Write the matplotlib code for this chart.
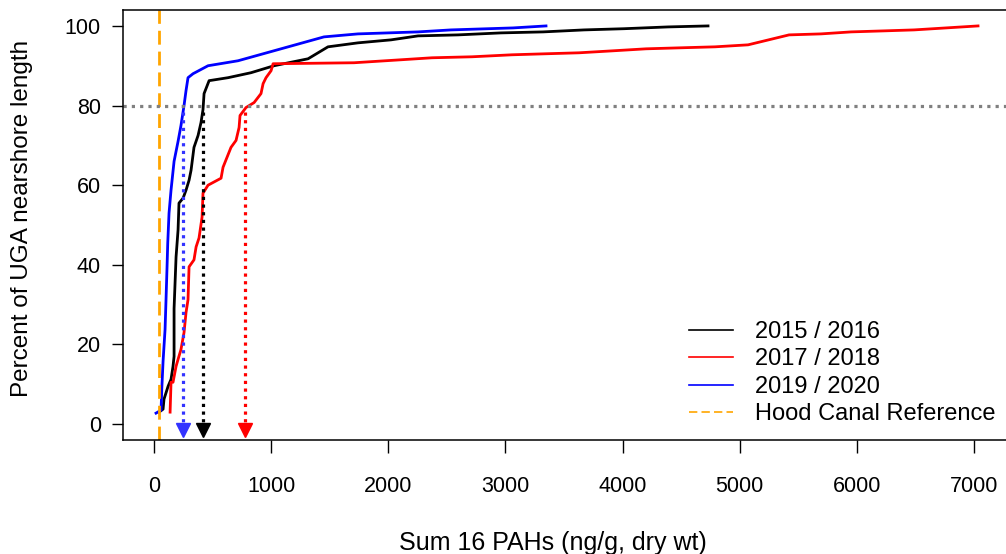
import matplotlib
matplotlib.use('Agg')
import matplotlib.pyplot as plt
import numpy as np

plt.rcParams['font.family'] = ['Liberation Sans', 'DejaVu Sans']

# cumulative percent of nearshore length vs sum 16 PAHs
pah_1516 = [43, 77, 85, 120, 145, 162, 171, 171, 171, 188, 205, 213, 248, 273, 299,
            316, 341, 376, 401, 418, 427, 470, 632, 828, 1024, 1315, 1485, 1741,
            2023, 2254, 2595, 2962, 3321, 3671, 4012, 4388, 4729]
pct_1516 = [3, 3.75, 6.25, 9.5, 11.25, 14.5, 17, 23, 29, 42, 48.75, 55.5, 56.75, 58.75, 61.25,
            63.75, 69.5, 72.5, 75.75, 79, 83, 86.25, 87, 88.25, 90, 91.75, 94.75, 95.75,
            96.5, 97.5, 97.75, 98.25, 98.5, 99, 99.3, 99.75, 100]

pah_1718 = [137, 145, 162, 188, 205, 230, 256, 273, 290, 299, 341, 359, 384, 410, 418,
            461, 572, 589, 657, 700, 726, 734, 785, 854, 913, 931, 956, 999, 1016,
            1707, 2109, 2373, 2715, 3056, 3338, 3628, 3918, 4200, 4490, 4789, 5071,
            5421, 5694, 5950, 6223, 6488, 6761, 7034]
pct_1718 = [3, 10.5, 10.5, 14.5, 16.25, 18.75, 23, 28, 31.25, 39.5, 41.25, 44.5, 46.75, 52, 58,
            60, 61.75, 64.5, 69.5, 71.25, 74.5, 77.5, 79.5, 80.75, 83, 85.5, 87, 88.75, 90.5,
            90.75, 91.5, 92, 92.25, 92.75, 93, 93.25, 93.75, 94.25, 94.5, 94.75, 95.25,
            97.75, 98, 98.5, 98.75, 99, 99.5, 100]

pah_1920 = [17, 60, 66, 77, 94, 102, 111, 117, 128, 145, 171, 205, 230, 256, 273, 290,
            333, 461, 717, 1451, 1741, 2254, 2535, 3065, 3346]
pct_1920 = [2.75, 3.5, 8.75, 15.75, 23.75, 31, 39.5, 45.5, 53, 58.75, 66, 71, 75, 80, 83.75, 87,
            88, 90, 91.25, 97.25, 98, 98.5, 99, 99.5, 100]

hood_canal = 40
target_pct = 80
pah_at_80 = {'2015 / 2016': 421, '2017 / 2018': 780, '2019 / 2020': 245}

W, H = 1006, 554
fig = plt.figure(figsize=(W / 100, H / 100), dpi=100)
ax = fig.add_axes([123 / W, 1 - 440 / H, (1010 - 123) / W, 430 / H])

ax.plot(pah_1516, pct_1516, color='black', lw=2, label='2015 / 2016')
ax.plot(pah_1718, pct_1718, color='red', lw=2, label='2017 / 2018')
ax.plot(pah_1920, pct_1920, color='blue', lw=2, label='2019 / 2020')
ax.axvline(hood_canal, color='orange', lw=2, dashes=(5, 2.5), label='Hood Canal Reference')
ax.axhline(target_pct, color='#808080', lw=2.3, linestyle=(0, (1, 1.6)))

arrow_cols = {'2015 / 2016': 'black', '2017 / 2018': 'red', '2019 / 2020': '#3333ff'}
for k, xv in pah_at_80.items():
    ax.plot([xv, xv], [target_pct - 1.5, 0.5], color=arrow_cols[k], lw=2.3,
            linestyle=(0, (1, 1.4)))
    ax.plot([xv], [-1.6], marker='v', ms=10.5, color=arrow_cols[k], mec=arrow_cols[k])

ax.set_xlim(-265, 7307)
ax.set_ylim(-4, 104)
ax.set_xticks(np.arange(0, 7001, 1000))
ax.set_yticks(np.arange(0, 101, 20))
ax.tick_params(axis='x', length=9, width=1, pad=17, labelsize=15.5)
ax.tick_params(axis='y', length=8, width=1, pad=8, labelsize=15.5)
for s in ax.spines.values():
    s.set_linewidth(1.1)

fig.text(553 / W, 1 - 543 / H, 'Sum 16 PAHs (ng/g, dry wt)', ha='center', va='center', fontsize=18)
fig.text(22 / W, 1 - 218 / H, 'Percent of UGA nearshore length', ha='center', va='center',
         rotation=90, fontsize=17.5)

handles, labels = ax.get_legend_handles_labels()
leg = ax.legend(handles, labels, loc='lower right', bbox_to_anchor=(1007 / W, 1 - 437 / H),
                bbox_transform=fig.transFigure, frameon=False, fontsize=17,
                handlelength=1.9, handletextpad=0.9, labelspacing=0.23, borderpad=0)
for ln in leg.get_lines():
    ln.set_linewidth(1.2)

fig.savefig('out.png', dpi=100)
